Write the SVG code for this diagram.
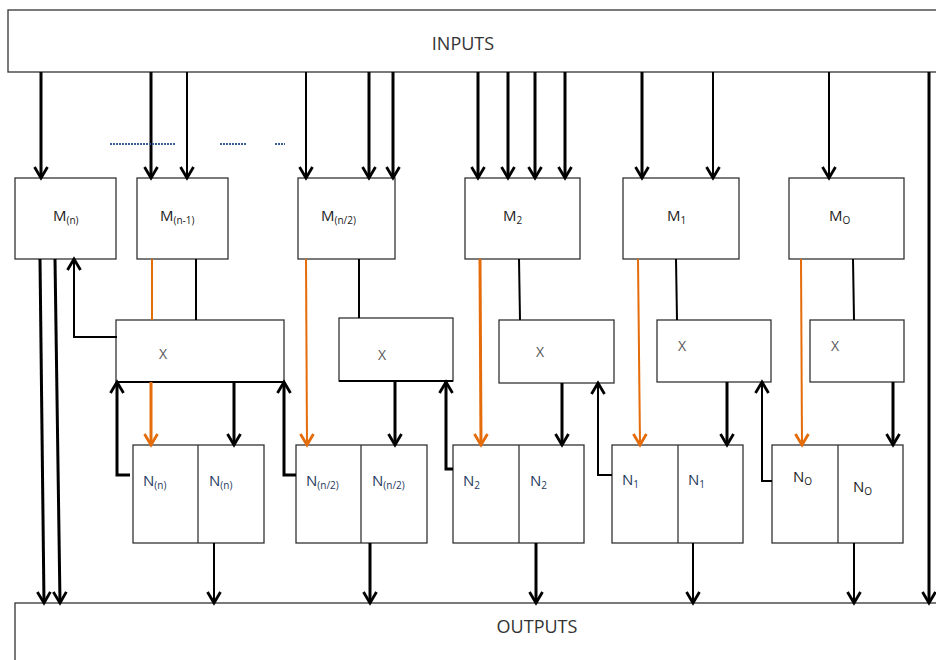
<svg xmlns="http://www.w3.org/2000/svg" width="936" height="660" viewBox="0 0 936 660">
<style>
.box{fill:#fff;stroke:#333;stroke-width:1.3}
.lbl{font-family:"Open Sans","Liberation Sans",sans-serif;font-size:15px;fill:#222}
.big{font-family:"Open Sans","Liberation Sans",sans-serif;font-size:18px;fill:#333}
.x{font-family:"Open Sans","Liberation Sans",sans-serif;font-size:14px;fill:#555}
.nl{font-family:"Open Sans","Liberation Sans",sans-serif;font-size:15px;fill:#1f3a60}
.sub{font-size:10px}
.k{fill:none;stroke:#000;stroke-width:2}
.kt{fill:none;stroke:#000;stroke-width:3}
.o{fill:none;stroke:#E46C0A;stroke-width:2}
.ot{fill:none;stroke:#E46C0A;stroke-width:3}
.ak{marker-end:url(#ah)}
.ao{marker-end:url(#aho)}
</style>
<defs>
<marker id="ah" markerUnits="userSpaceOnUse" markerWidth="16" markerHeight="16" viewBox="-12 -8 14 16" refX="0" refY="0" orient="auto" overflow="visible"><path d="M-11,-6.5 L0,0 L-11,6.5" fill="none" stroke="#000" stroke-width="2.8"/></marker>
<marker id="aho" markerUnits="userSpaceOnUse" markerWidth="16" markerHeight="16" viewBox="-12 -8 14 16" refX="0" refY="0" orient="auto" overflow="visible"><path d="M-11,-6.5 L0,0 L-11,6.5" fill="none" stroke="#E46C0A" stroke-width="2.8"/></marker>
</defs>
<rect width="936" height="660" fill="#fff"/>

<g id="inputs"><rect class="box" x="8" y="10" width="940" height="62"/><text class="big" x="463" y="50" text-anchor="middle">INPUTS</text></g>
<g id="outputs"><rect class="box" x="15" y="603" width="940" height="70"/><text class="big" x="537" y="633" text-anchor="middle">OUTPUTS</text></g>

<g id="Mn"><rect class="box" x="15" y="178" width="101" height="81"/><text class="lbl" x="53" y="221">M<tspan class="sub" dy="3">(n)</tspan></text></g>
<g id="Mn1"><rect class="box" x="137" y="178" width="91" height="81"/><text class="lbl" x="160" y="221">M<tspan class="sub" dy="3">(n-1)</tspan></text></g>
<g id="Mn2"><rect class="box" x="298" y="178" width="97" height="81"/><text class="lbl" x="321" y="221">M<tspan class="sub" dy="3">(n/2)</tspan></text></g>
<g id="M2"><rect class="box" x="465" y="178" width="115" height="81"/><text class="lbl" x="503" y="221">M<tspan class="sub" dy="3">2</tspan></text></g>
<g id="M1"><rect class="box" x="623" y="178" width="116" height="81"/><text class="lbl" x="667" y="221">M<tspan class="sub" dy="3">1</tspan></text></g>
<g id="M0"><rect class="box" x="789" y="178" width="115" height="81"/><text class="lbl" x="829" y="221">M<tspan class="sub" dy="3">O</tspan></text></g>

<g id="X1"><rect class="box" x="116" y="320" width="168" height="62"/><line x1="116" y1="382" x2="284" y2="382" stroke="#000" stroke-width="2"/><text class="x" x="163" y="359" text-anchor="middle">X</text></g>
<g id="X2"><rect class="box" x="339" y="318" width="114" height="63"/><line x1="339" y1="381" x2="453" y2="381" stroke="#000" stroke-width="2"/><text class="x" x="382" y="360" text-anchor="middle">X</text></g>
<g id="X3"><rect class="box" x="499" y="320" width="115" height="63"/><text class="x" x="540" y="357" text-anchor="middle">X</text></g>
<g id="X4"><rect class="box" x="657" y="320" width="114" height="62" stroke-width="2"/><text class="x" x="682" y="351" text-anchor="middle">X</text></g>
<g id="X5"><rect class="box" x="810" y="320" width="94" height="62" stroke-width="2"/><text class="x" x="835" y="351" text-anchor="middle">X</text></g>

<g id="Nn"><rect class="box" x="133" y="445" width="131" height="98"/><line class="box" x1="198" y1="445" x2="198" y2="543"/><text class="nl" x="143" y="486">N<tspan class="sub" dy="3">(n)</tspan></text><text class="nl" x="209" y="486">N<tspan class="sub" dy="3">(n)</tspan></text></g>
<g id="Nn2"><rect class="box" x="296" y="445" width="131" height="98"/><line class="box" x1="361" y1="445" x2="361" y2="543"/><text class="nl" x="306" y="486">N<tspan class="sub" dy="3">(n/2)</tspan></text><text class="nl" x="372" y="486">N<tspan class="sub" dy="3">(n/2)</tspan></text></g>
<g id="N2"><rect class="box" x="453" y="445" width="131" height="98"/><line class="box" x1="519" y1="445" x2="519" y2="543"/><text class="nl" x="463" y="486">N<tspan class="sub" dy="3">2</tspan></text><text class="nl" x="530" y="486">N<tspan class="sub" dy="3">2</tspan></text></g>
<g id="N1"><rect class="box" x="612" y="445" width="131" height="98"/><line class="box" x1="678" y1="445" x2="678" y2="543"/><text class="nl" x="622" y="485">N<tspan class="sub" dy="3">1</tspan></text><text class="nl" x="688" y="485">N<tspan class="sub" dy="3">1</tspan></text></g>
<g id="N0"><rect class="box" x="772" y="445" width="131" height="98"/><line class="box" x1="838" y1="445" x2="838" y2="543"/><text class="lbl" x="793" y="482">N<tspan class="sub" dy="3">O</tspan></text><text class="lbl" x="853" y="492">N<tspan class="sub" dy="3">O</tspan></text></g>

<g id="connectors">
<line class="kt ak" x1="41" y1="72" x2="41" y2="178"/>
<line class="kt ak" x1="151" y1="72" x2="151" y2="178"/>
<line class="k ak" x1="187" y1="72" x2="187" y2="178"/>
<line class="k ak" x1="306" y1="72" x2="306" y2="178"/>
<line class="kt ak" x1="369" y1="72" x2="369" y2="178"/>
<line class="kt ak" x1="393" y1="72" x2="393" y2="178"/>
<line class="kt ak" x1="478" y1="72" x2="478" y2="178"/>
<line class="kt ak" x1="508" y1="72" x2="508" y2="178"/>
<line class="kt ak" x1="535" y1="72" x2="535" y2="178"/>
<line class="kt ak" x1="565" y1="72" x2="565" y2="178"/>
<line class="kt ak" x1="642" y1="72" x2="642" y2="178"/>
<line class="k ak" x1="713" y1="72" x2="713" y2="178"/>
<line class="k ak" x1="829" y1="72" x2="829" y2="178"/>
<line x1="110" y1="144" x2="176" y2="144" stroke="#3a5f9a" stroke-width="2" stroke-dasharray="2,1"/>
<line x1="220" y1="144" x2="246" y2="144" stroke="#3a5f9a" stroke-width="2" stroke-dasharray="2,1"/>
<line x1="275" y1="144" x2="285" y2="144" stroke="#3a5f9a" stroke-width="2" stroke-dasharray="2,1"/>
<line class="kt ak" x1="929" y1="72" x2="929" y2="603"/>
<line class="kt ak" x1="40" y1="259" x2="44" y2="603"/>
<line class="kt ak" x1="55" y1="259" x2="60" y2="603"/>
<polyline class="k ak" points="117,337 74,337 74,259"/>
<line class="o" x1="152" y1="259" x2="152" y2="320"/>
<line class="k" x1="196" y1="259" x2="196" y2="320"/>
<line class="o ao" x1="306" y1="259" x2="307" y2="445"/>
<line class="k" x1="359" y1="259" x2="359" y2="318"/>
<line class="ot ao" x1="480" y1="259" x2="481" y2="445"/>
<line class="k" x1="519" y1="259" x2="520" y2="320"/>
<line class="o ao" x1="638" y1="259" x2="640" y2="445"/>
<line class="k" x1="676" y1="259" x2="677" y2="320"/>
<line class="o ao" x1="801" y1="259" x2="802" y2="445"/>
<line class="k" x1="853" y1="259" x2="854" y2="320"/>
<line class="ot ao" x1="151" y1="382" x2="151" y2="445"/>
<line class="kt ak" x1="234" y1="382" x2="234" y2="445"/>
<line class="kt ak" x1="395" y1="381" x2="395" y2="445"/>
<line class="kt ak" x1="562" y1="383" x2="562" y2="445"/>
<line class="kt ak" x1="727" y1="382" x2="727" y2="445"/>
<line class="kt ak" x1="893" y1="382" x2="893" y2="445"/>
<polyline class="kt ak" points="130,475 117,475 117,382"/>
<polyline class="kt ak" points="296,475 284,475 284,382"/>
<polyline class="kt ak" points="453,469 446,469 446,382"/>
<polyline class="k ak" points="612,475 598,475 598,383"/>
<polyline class="k ak" points="772,481 762,481 762,382"/>
<line class="k ak" x1="214" y1="543" x2="214" y2="603"/>
<line class="kt ak" x1="370" y1="543" x2="370" y2="603"/>
<line class="kt ak" x1="536" y1="543" x2="536" y2="603"/>
<line class="k ak" x1="693" y1="543" x2="693" y2="603"/>
<line class="k ak" x1="854" y1="543" x2="854" y2="603"/>
</g>
</svg>
